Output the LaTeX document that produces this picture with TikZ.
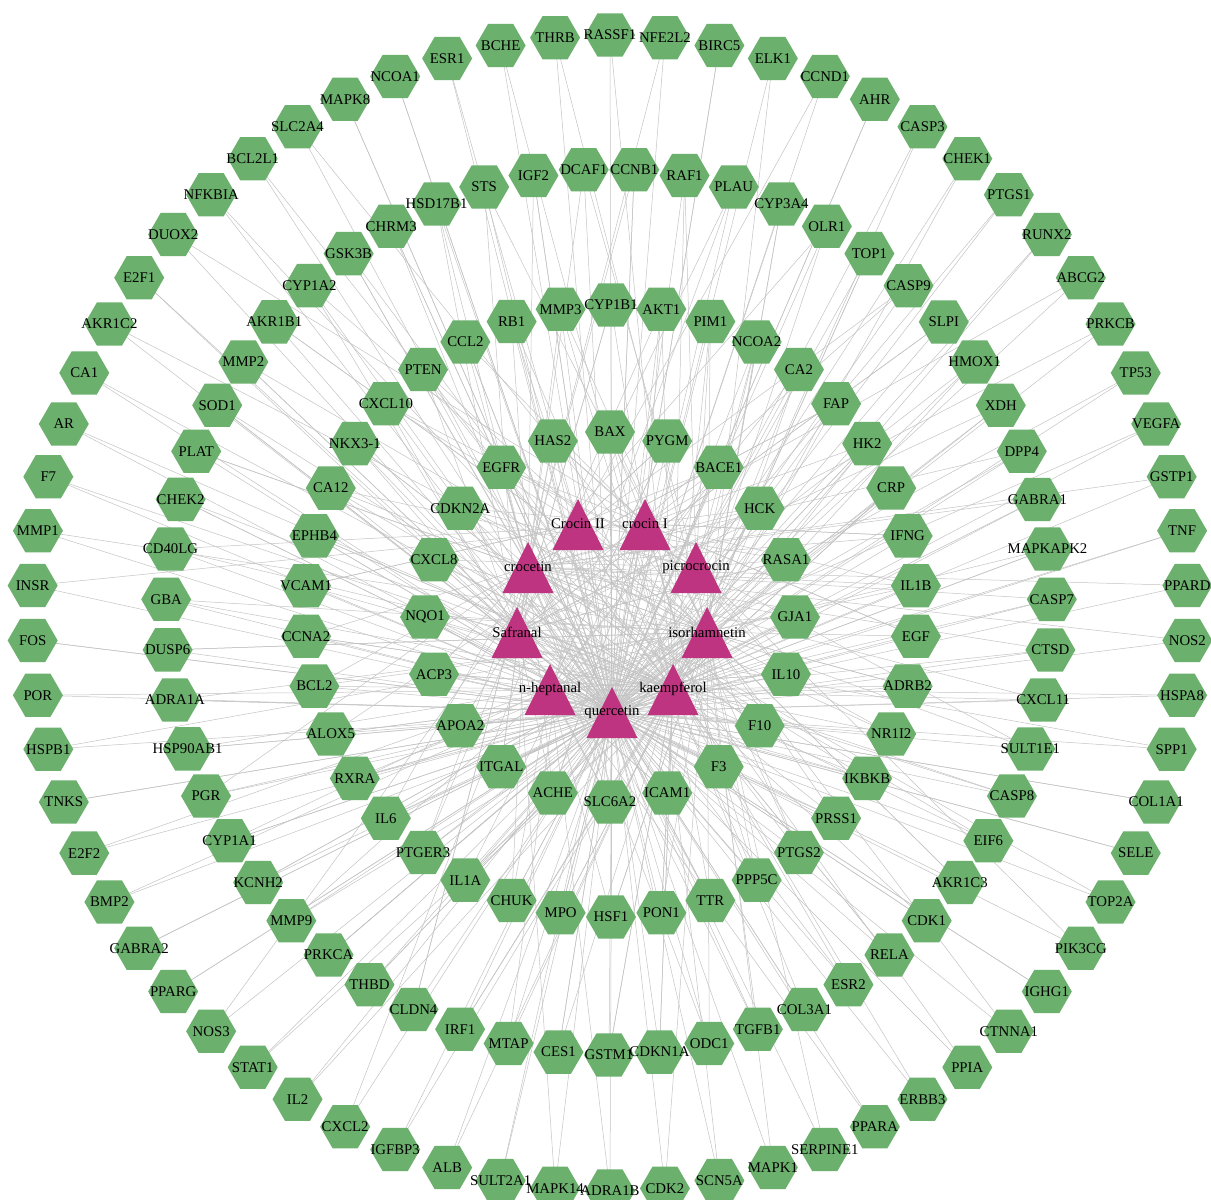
\documentclass[tikz,border=0pt]{standalone}
\usepackage{fontspec}
\setmainfont{Liberation Serif}
\usetikzlibrary{shapes.geometric}
\definecolor{hexgreen}{RGB}{107,176,108}
\definecolor{trimag}{RGB}{190,52,128}
\definecolor{edgegray}{RGB}{196,196,196}
\pgfdeclarelayer{bg}
\pgfdeclarelayer{edges}
\pgfsetlayers{bg,edges,main}
\def\outerlist{RASSF1,NFE2L2,BIRC5,ELK1,CCND1,AHR,CASP3,CHEK1,PTGS1,RUNX2,ABCG2,PRKCB,TP53,VEGFA,GSTP1,TNF,PPARD,NOS2,HSPA8,SPP1,COL1A1,SELE,TOP2A,PIK3CG,IGHG1,CTNNA1,PPIA,ERBB3,PPARA,SERPINE1,MAPK1,SCN5A,CDK2,ADRA1B,MAPK14,SULT2A1,ALB,IGFBP3,CXCL2,IL2,STAT1,NOS3,PPARG,GABRA2,BMP2,E2F2,TNKS,HSPB1,POR,FOS,INSR,MMP1,F7,AR,CA1,AKR1C2,E2F1,DUOX2,NFKBIA,BCL2L1,SLC2A4,MAPK8,NCOA1,ESR1,BCHE,THRB}
\def\thirdlist{DCAF1,CCNB1,RAF1,PLAU,CYP3A4,OLR1,TOP1,CASP9,SLPI,HMOX1,XDH,DPP4,GABRA1,MAPKAPK2,CASP7,CTSD,CXCL11,SULT1E1,CASP8,EIF6,AKR1C3,CDK1,RELA,ESR2,COL3A1,TGFB1,ODC1,CDKN1A,GSTM1,CES1,MTAP,IRF1,CLDN4,THBD,PRKCA,MMP9,KCNH2,CYP1A1,PGR,HSP90AB1,ADRA1A,DUSP6,GBA,CD40LG,CHEK2,PLAT,SOD1,MMP2,AKR1B1,CYP1A2,GSK3B,CHRM3,HSD17B1,STS,IGF2}
\def\secondlist{CYP1B1,AKT1,PIM1,NCOA2,CA2,FAP,HK2,CRP,IFNG,IL1B,EGF,ADRB2,NR1I2,IKBKB,PRSS1,PTGS2,PPP5C,TTR,PON1,HSF1,MPO,CHUK,IL1A,PTGER3,IL6,RXRA,ALOX5,BCL2,CCNA2,VCAM1,EPHB4,CA12,NKX3-1,CXCL10,PTEN,CCL2,RB1,MMP3}
\def\innerlist{BAX,PYGM,BACE1,HCK,RASA1,GJA1,IL10,F10,F3,ICAM1,SLC6A2,ACHE,ITGAL,APOA2,ACP3,NQO1,CXCL8,CDKN2A,EGFR,HAS2}
\def\mapA{{7,7,7,7,7,5,5,5,2,2,4,4,0,1,3,6,8,8,8,8}}
\def\mapB{{7,7,7,7,5,5,5,2,2,2,4,4,0,1,3,6,8,8,7,5}}
\def\mapC{{0,1,2,3,4,5,6,7,7,7,5,5,2,2,4,0,1,3,6,8}}
\begin{document}
\begin{tikzpicture}[x=1pt,y=-1pt,
  hex/.style={regular polygon,regular polygon sides=6,minimum size=50pt,inner sep=0pt,fill=hexgreen,draw=none},
  lbl/.style={font=\fontsize{14.8}{15}\selectfont,inner sep=0pt,text=black},
  edge/.style={draw=edgegray,line width=0.5pt}]
\useasboundingbox (0,0) rectangle (1211,1200);
\begin{pgfonlayer}{bg}
\fill[white] (0,0) rectangle (1211,1200);
\end{pgfonlayer}
\clip (0,0) rectangle (1211,1200);
% hexagons
\foreach \n [count=\i from 0] in \outerlist
  \node[hex] (o\i) at ({610+578*cos(90-\i*5.454545)},{613-578*sin(90-\i*5.454545)}) {};
\foreach \n [count=\i from 0] in \thirdlist
  \node[hex] (h\i) at ({609+443*cos(93.27-\i*6.545454)},{612-443*sin(93.27-\i*6.545454)}) {};
\foreach \n [count=\i from 0] in \secondlist
  \node[hex] (s\i) at ({611+306*cos(90-\i*9.473684)},{611-306*sin(90-\i*9.473684)}) {};
\foreach \n [count=\i from 0] in \innerlist
  \node[hex] (r\i) at ({610+185*cos(90-\i*18)},{617-185*sin(90-\i*18)}) {};
% compounds (triangles)
\foreach \x/\y [count=\i from 0] in {578/524,645/524,528/567,696/567,517/632,707/632,550/689,673/689,612/712}{
  \coordinate (T\i) at (\x,\y);
  \fill[trimag] (\x,\y-25) -- (\x-25.5,\y+26) -- (\x+25.5,\y+26) -- cycle;
}
% edges
\begin{pgfonlayer}{edges}
\pgfmathsetseed{2024}
\foreach \i in {0,...,65}{
  \draw[edge] (o\i.center) -- (T8);
  \pgfmathrandominteger{\k}{0}{19}\pgfmathtruncatemacro{\t}{\mapA[\k]}
  \draw[edge] (o\i.center) -- (T\t);
}
\foreach \i in {0,...,54}{
  \draw[edge] (h\i.center) -- (T8);
  \pgfmathrandominteger{\k}{0}{19}\pgfmathtruncatemacro{\t}{\mapB[\k]}
  \draw[edge] (h\i.center) -- (T\t);
  \pgfmathrandominteger{\k}{0}{19}\pgfmathtruncatemacro{\t}{\mapA[\k]}
  \draw[edge] (h\i.center) -- (T\t);
}
\foreach \i in {0,...,37}{
  \draw[edge] (s\i.center) -- (T8);
  \foreach \j in {1,2,3}{
    \pgfmathrandominteger{\k}{0}{19}\pgfmathtruncatemacro{\t}{\mapB[\k]}
    \draw[edge] (s\i.center) -- (T\t);
  }
}
\foreach \i in {0,...,19}{
  \draw[edge] (r\i.center) -- (T8);
  \foreach \j in {1,2,3,4}{
    \pgfmathrandominteger{\k}{0}{19}\pgfmathtruncatemacro{\t}{\mapC[\k]}
    \draw[edge] (r\i.center) -- (T\t);
  }
}
\end{pgfonlayer}
% labels
\foreach \n [count=\i from 0] in \outerlist \node[lbl] at (o\i) {\n};
\foreach \n [count=\i from 0] in \thirdlist \node[lbl] at (h\i) {\n};
\foreach \n [count=\i from 0] in \secondlist \node[lbl] at (s\i) {\n};
\foreach \n [count=\i from 0] in \innerlist \node[lbl] at (r\i) {\n};
\foreach \n [count=\i from 0] in {Crocin II,crocin I,crocetin,picrocrocin,Safranal,isorhamnetin,n-heptanal,kaempferol,quercetin}
  \node[lbl] at (T\i) {\n};
\end{tikzpicture}
\end{document}
